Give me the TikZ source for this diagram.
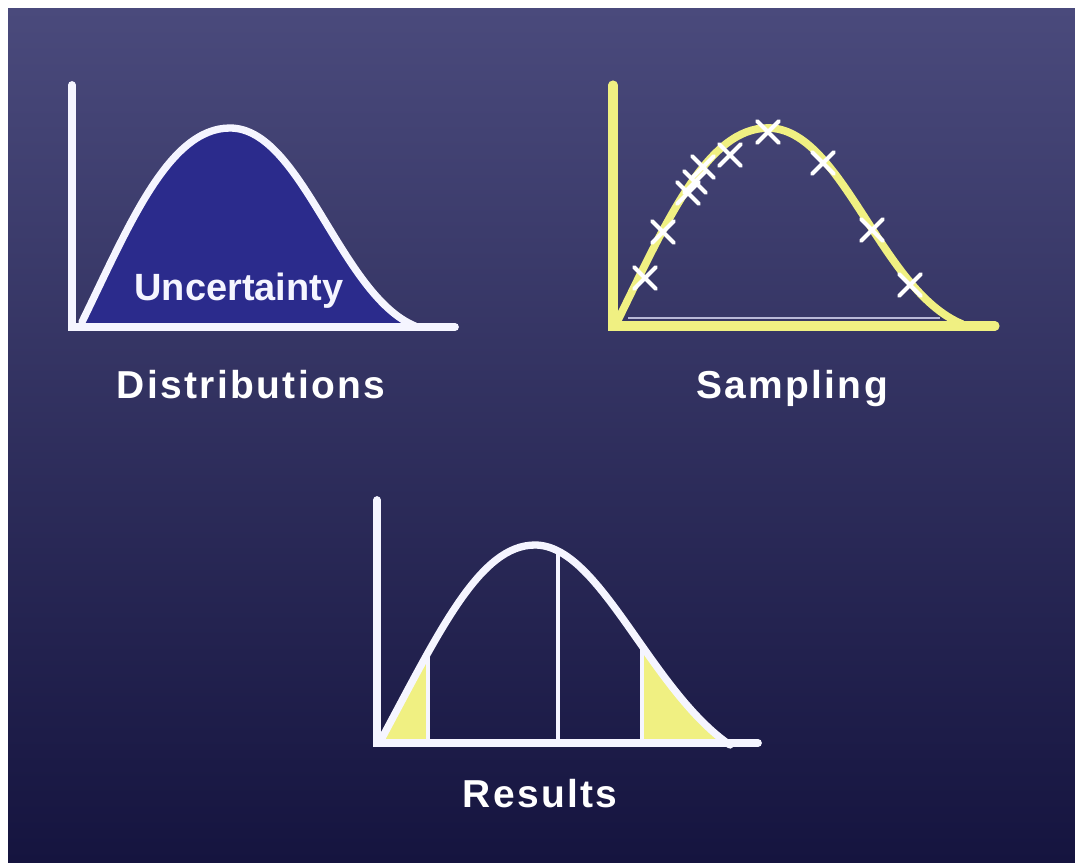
\documentclass[tikz,border=0pt]{standalone}
\usepackage{fontspec}
\setmainfont{Liberation Sans}
\usetikzlibrary{positioning}
\definecolor{bgtop}{RGB}{74,74,124}
\definecolor{bgbottom}{RGB}{21,20,63}
\definecolor{areablue}{RGB}{43,43,140}
\definecolor{pale}{RGB}{240,240,130}
\definecolor{axiswhite}{RGB}{245,245,255}
\definecolor{lav}{RGB}{185,185,215}

\begin{document}
\begin{tikzpicture}[
    x=0.025cm, y=-0.025cm,
    axis/.style={draw=axiswhite, line width=5.5pt, line cap=round},
    bell/.style={draw=axiswhite, line width=5.2pt, line cap=round},
    yaxis/.style={draw=pale, line width=6.5pt, line cap=round},
    ybell/.style={draw=pale, line width=5.5pt, line cap=round},
    cut/.style={draw=axiswhite, line width=3pt},
    sample/.style={draw=white, line width=2.8pt, line cap=round},
    caption/.style={font=\fontsize{27.7}{30}\selectfont\bfseries\addfontfeatures{LetterSpace=6}, text=white, anchor=base, inner sep=0pt},
    inlabel/.style={font=\fontsize{27}{30}\selectfont\bfseries, text=axiswhite, anchor=base, inner sep=0pt}
]
    \useasboundingbox[fill=white] (0,0) rectangle (1075,862);
    \shade[top color=bgtop, bottom color=bgbottom] (8,8) rectangle (1075,862);

    \fill[areablue] (82,326) .. controls (128,228) and (168,128) .. (230,128)
        .. controls (302,128) and (340,295) .. (415,326) -- cycle;
    \draw[bell] (82,322) .. controls (128,228) and (168,128) .. (230,128)
        .. controls (302,128) and (340,295) .. (415,326);
    \draw[axis] (72,85) -- (72,327) -- (455,327);
    \node[inlabel] (unc) at (239,300) {Uncertainty};
    \node[caption] (dist) at (251,398) {Distributions};

    \draw[draw=lav, line width=1pt] (628,318) -- (940,318);
    \draw[ybell] (618,320) .. controls (668,218) and (708,128) .. (768,128)
        .. controls (842,128) and (880,290) .. (962,324);
    \draw[yaxis] (613,85) -- (613,326) -- (995,326);
    \foreach \x/\y in {645/278, 663/232, 688/193, 695/182, 703/167, 730/155, 768/132, 823/163, 872/230, 910/285}
        \draw[sample] (\x-11,\y-11) -- (\x+11,\y+11) (\x-11,\y+11) -- (\x+11,\y-11);
    \node[caption] (samp) at (792,398) {Sampling};

    \begin{scope}
        \clip (382,745) .. controls (440,630) and (480,545) .. (535,545)
            .. controls (600,545) and (650,690) .. (730,745) -- cycle;
        \fill[pale] (376,500) rectangle (428,750);
        \fill[pale] (642,500) rectangle (760,750);
        \draw[cut] (428,500) -- (428,745);
        \draw[cut] (558,500) -- (558,745);
        \draw[cut] (642,500) -- (642,745);
    \end{scope}
    \draw[bell] (382,738) .. controls (440,630) and (480,545) .. (535,545)
        .. controls (600,545) and (650,690) .. (730,745);
    \draw[axis] (377,500) -- (377,743) -- (758,743);
    \node[caption] (res) at (540,807) {Results};
\end{tikzpicture}
\end{document}
